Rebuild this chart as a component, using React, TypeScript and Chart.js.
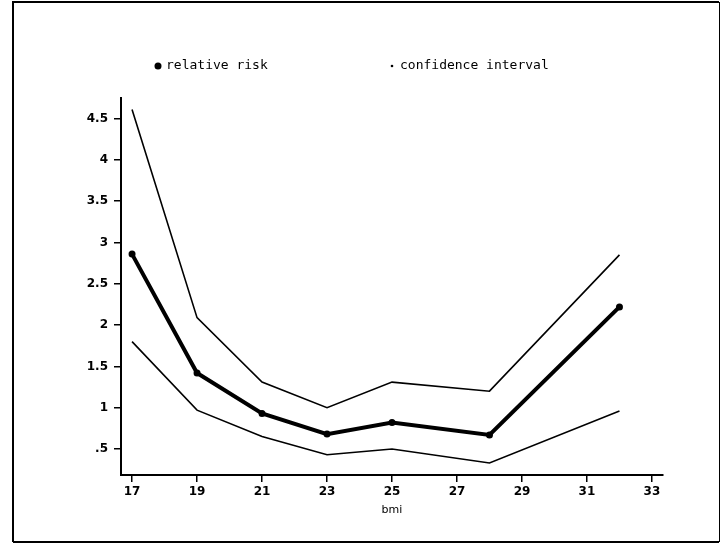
import React, { useEffect, useRef } from "react";
import { Chart, registerables } from "chart.js";

Chart.register(...registerables);

// Relative risk of the outcome by body-mass index, with confidence limits
const bmi = [17, 19, 21, 23, 25, 28, 32];
const relativeRisk = [2.86, 1.42, 0.93, 0.68, 0.82, 0.67, 2.22];
const ciUpper = [4.61, 2.09, 1.31, 1.0, 1.31, 1.2, 2.85];
const ciLower = [1.8, 0.97, 0.65, 0.43, 0.5, 0.33, 0.96];

const xTicks = [17, 19, 21, 23, 25, 27, 29, 31, 33];
const yTicks = [0.5, 1, 1.5, 2, 2.5, 3, 3.5, 4, 4.5];
const yTickLabels = [".5", "1", "1.5", "2", "2.5", "3", "3.5", "4", "4.5"];
const legendLabels = ["relative risk", "confidence interval"];
const xTitle = "bmi";

const INK = "#000";
const tickFont = { family: "'DejaVu Sans', sans-serif", size: 12, weight: "bold" as const };

const toPoints = (ys: number[]) => bmi.map((x, i) => ({ x, y: ys[i] }));

// Page frame plus the two-item key above the plot
const framePlugin = {
  id: "frameAndKey",
  afterDraw(chart: Chart) {
    const ctx = chart.ctx;
    ctx.save();
    ctx.strokeStyle = INK;
    ctx.lineWidth = 2;
    ctx.beginPath();
    ctx.moveTo(13, 542);
    ctx.lineTo(13, 2);
    ctx.lineTo(719, 2);
    ctx.moveTo(13, 542);
    ctx.lineTo(719, 542);
    ctx.stroke();
    ctx.lineWidth = 1;
    ctx.beginPath();
    ctx.moveTo(719.5, 2);
    ctx.lineTo(719.5, 542);
    ctx.stroke();

    const keyY = 66;
    ctx.fillStyle = INK;
    ctx.font = "13px 'DejaVu Sans Mono', monospace";
    ctx.textBaseline = "middle";
    ctx.textAlign = "left";

    ctx.beginPath();
    ctx.arc(158, keyY, 3.5, 0, Math.PI * 2);
    ctx.fill();
    ctx.fillText(legendLabels[0], 166, keyY);

    ctx.beginPath();
    ctx.arc(392, keyY, 1.3, 0, Math.PI * 2);
    ctx.fill();
    ctx.fillText(legendLabels[1], 400, keyY);
    ctx.restore();
  },
};

export default function App() {
  const canvasRef = useRef<HTMLCanvasElement | null>(null);

  useEffect(() => {
    if (!canvasRef.current) return;
    const chart = new Chart(canvasRef.current, {
      type: "line",
      data: {
        datasets: [
          {
            label: legendLabels[1],
            data: toPoints(ciUpper),
            borderColor: INK,
            borderWidth: 1.6,
            pointRadius: 0,
            tension: 0,
          },
          {
            label: legendLabels[0],
            data: toPoints(relativeRisk),
            borderColor: INK,
            backgroundColor: INK,
            borderWidth: 4,
            pointRadius: 3.5,
            pointBackgroundColor: INK,
            pointBorderWidth: 0,
            tension: 0,
          },
          {
            label: legendLabels[1] + " (lower)",
            data: toPoints(ciLower),
            borderColor: INK,
            borderWidth: 1.6,
            pointRadius: 0,
            tension: 0,
          },
        ],
      },
      options: {
        responsive: false,
        animation: false,
        devicePixelRatio: 1,
        layout: { padding: { top: 98, right: 57, bottom: 0, left: 0 } },
        plugins: {
          legend: { display: false },
          tooltip: { enabled: false },
        },
        scales: {
          x: {
            type: "linear",
            min: 16.66,
            max: 33.34,
            afterBuildTicks: (scale: any) => {
              scale.ticks = xTicks.map((value) => ({ value }));
            },
            afterFit: (scale: any) => {
              scale.height = 71;
            },
            ticks: {
              color: INK,
              font: tickFont,
              padding: 3,
              autoSkip: false,
              maxRotation: 0,
              callback: (v: any) => String(v),
            },
            grid: {
              drawOnChartArea: false,
              drawTicks: true,
              tickLength: 7,
              color: INK,
              lineWidth: 1.5,
            },
            border: { display: true, color: INK, width: 2 },
            title: {
              display: true,
              text: xTitle,
              color: INK,
              font: { family: "'DejaVu Sans', sans-serif", size: 11 },
              padding: { top: 0, bottom: 29 },
            },
          },
          y: {
            type: "linear",
            min: 0.185,
            max: 4.75,
            afterBuildTicks: (scale: any) => {
              scale.ticks = yTicks.map((value) => ({ value }));
            },
            afterFit: (scale: any) => {
              scale.width = 121;
            },
            ticks: {
              color: INK,
              font: tickFont,
              padding: 6,
              autoSkip: false,
              callback: (v: any) => {
                const i = yTicks.indexOf(Number(v));
                return i >= 0 ? yTickLabels[i] : "";
              },
            },
            grid: {
              drawOnChartArea: false,
              drawTicks: true,
              tickLength: 7,
              color: INK,
              lineWidth: 1.5,
            },
            border: { display: true, color: INK, width: 2 },
          },
        },
      },
      plugins: [framePlugin],
    });
    return () => chart.destroy();
  }, []);

  return (
    <div style={{ position: "absolute", left: 0, top: 0, width: 720, height: 546, background: "#fff" }}>
      <canvas ref={canvasRef} width={720} height={546} />
    </div>
  );
}
